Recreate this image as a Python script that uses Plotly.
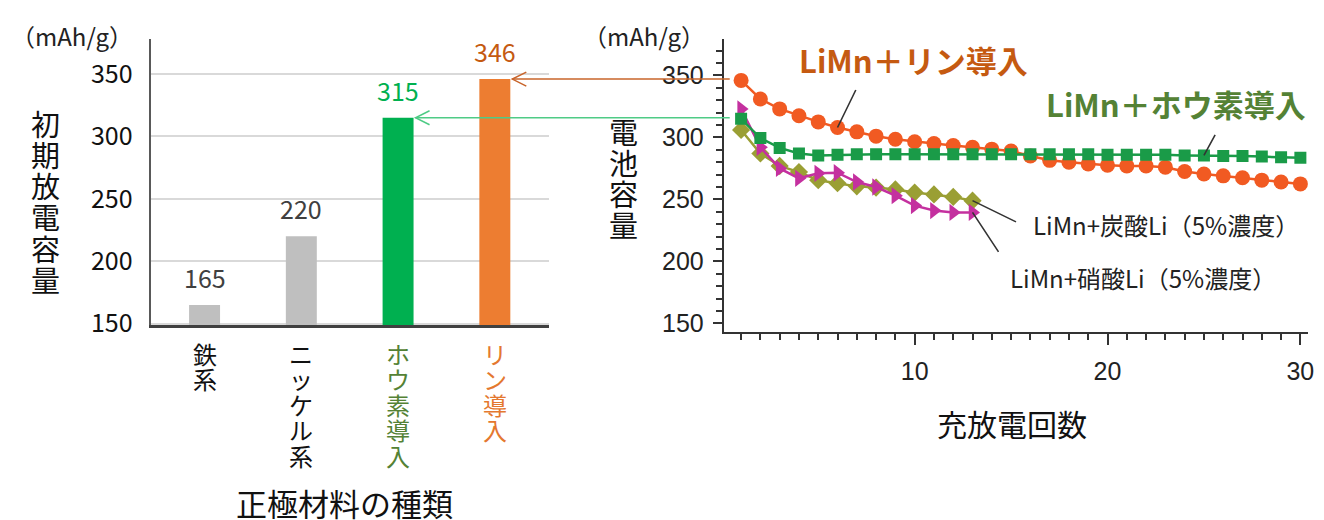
import plotly.graph_objects as go

# ---------------- data ----------------
categories = ["鉄系", "ニッケル系", "ホウ素導入", "リン導入"]
initial_capacity = [165, 220, 315, 346]
bar_colors = ["#BFBFBF", "#BFBFBF", "#00B050", "#ED7D31"]
bar_label_colors = ["#404040", "#404040", "#00B050", "#C55A11"]
cat_label_colors = ["#111111", "#111111", "#548235", "#E4782F"]
left_yticks = [150, 200, 250, 300, 350]

cycles = list(range(1, 31))
cycles_short = list(range(1, 14))
limn_p = [346, 331, 323, 317.5, 312.5, 308, 304.5, 301, 298.5, 296.5, 295, 293.5, 292, 290.5, 289,
          285, 281.5, 280, 278.5, 277.5, 277, 277, 276, 272.5, 270.5, 269, 267.5, 265.5, 264, 262.5]
limn_b = [315, 299.5, 291.5, 287, 285.5, 286, 286.5, 286.5, 286.5, 286.5, 286.5, 286.5, 286.5, 286.5, 286.5,
          286.5, 286.5, 286.5, 286.5, 286, 286, 286, 286, 285.5, 285.5, 285, 285, 284.5, 284, 283.5]
limn_carb = [306, 287, 277, 272, 265.5, 263, 260.5, 259.5, 258, 255.5, 254, 252, 249]
limn_nitr = [323, 292, 275, 267, 271, 271.5, 264, 260, 253, 245, 241, 239.5, 239.5]
right_yticks = [150, 200, 250, 300, 350]
right_xticks = [10, 20, 30]

W, H = 1324, 520
CJK = "Noto Sans CJK JP"
LAT = "Liberation Sans, Noto Sans CJK JP"

def px_x(p):
    return p / W

def px_y(p):
    return 1 - p / H

# left panel geometry
L_dom_x = [px_x(144), px_x(543)]
L_dom_y = [px_y(326), px_y(32)]
L_rng_x = [-0.55, 3.555]
L_rng_y = [148.7, 378]
BAR_W = 0.32
# right panel geometry
R_dom_x = [px_x(719), px_x(1306)]
R_dom_y = [px_y(333), px_y(31.7)]

fig = go.Figure()

fig.add_trace(go.Bar(
    x=categories, y=initial_capacity, width=BAR_W,
    marker=dict(color=bar_colors, line=dict(width=0)),
    xaxis="x", yaxis="y", showlegend=False, hoverinfo="skip",
))

series = [
    (limn_p, cycles, "#F15A22", "circle", 15),
    (limn_carb, cycles_short, "#9A9F34", "diamond", 14),
    (limn_nitr, cycles_short, "#C4309F", "triangle-right", 15),
    (limn_b, cycles, "#1A9B48", "square", 12),
]
for ys, xs, col, sym, sz in series:
    fig.add_trace(go.Scatter(
        x=xs, y=ys, mode="lines+markers",
        line=dict(color=col, width=2.5),
        marker=dict(symbol=sym, size=sz, color=col),
        xaxis="x2", yaxis="y2", showlegend=False, hoverinfo="skip",
    ))

annotations = []
# bar value labels
for c, v, col in zip(categories, initial_capacity, bar_label_colors):
    annotations.append(dict(x=c, y=v, xref="x", yref="y", text=str(v), showarrow=False,
                            xanchor="center", yanchor="bottom", yshift=8,
                            font=dict(family=CJK, size=25, color=col)))
# vertical category labels (one char per line)
for c, col in zip(categories, cat_label_colors):
    for i, ch in enumerate(c):
        annotations.append(dict(x=c, y=px_y(355), xref="x", yref="paper", text=ch, showarrow=False,
                                xanchor="center", yanchor="middle", yshift=-i * 25.5,
                                font=dict(family=CJK, size=24, color=col)))
# left y title
for i, ch in enumerate("初期放電容量"):
    annotations.append(dict(x=px_x(38), y=px_y(118), xref="paper", yref="paper", text=ch,
                            showarrow=False, xanchor="center", yanchor="middle", yshift=-i * 31.2,
                            font=dict(family=CJK, size=29, color="#111111")))
# right y title
for i, ch in enumerate("電池容量"):
    annotations.append(dict(x=px_x(618), y=px_y(126), xref="paper", yref="paper", text=ch,
                            showarrow=False, xanchor="center", yanchor="middle", yshift=-i * 31.2,
                            font=dict(family=CJK, size=29, color="#111111")))
# units
annotations.append(dict(x=px_x(1), y=px_y(28), xref="paper", yref="paper", text="（mAh/g）",
                        showarrow=False, xanchor="left", yanchor="middle",
                        font=dict(family=CJK, size=24, color="#222222")))
annotations.append(dict(x=px_x(576), y=px_y(28), xref="paper", yref="paper", text="（mAh/g）",
                        showarrow=False, xanchor="left", yanchor="middle",
                        font=dict(family=CJK, size=24, color="#222222")))
# axis titles
annotations.append(dict(x=px_x(338), y=px_y(508), xref="paper", yref="paper", text="正極材料の種類",
                        showarrow=False, xanchor="center", yanchor="middle",
                        font=dict(family=CJK, size=31, color="#111111")))
annotations.append(dict(x=px_x(1009), y=px_y(426), xref="paper", yref="paper", text="充放電回数",
                        showarrow=False, xanchor="center", yanchor="middle",
                        font=dict(family=CJK, size=30, color="#111111")))
# series labels
annotations.append(dict(x=px_x(910), y=px_y(53), xref="paper", yref="paper", text="<b>LiMn＋リン導入</b>",
                        showarrow=False, xanchor="center", yanchor="middle",
                        font=dict(family=CJK, size=31, color="#C55A11")))
annotations.append(dict(x=px_x(1306), y=px_y(98), xref="paper", yref="paper", text="<b>LiMn＋ホウ素導入</b>",
                        showarrow=False, xanchor="right", yanchor="middle",
                        font=dict(family=CJK, size=31, color="#548235")))
annotations.append(dict(x=px_x(1028), y=px_y(222), xref="paper", yref="paper", text="LiMn+炭酸Li（5%濃度）",
                        showarrow=False, xanchor="left", yanchor="middle",
                        font=dict(family=CJK, size=24, color="#222222")))
annotations.append(dict(x=px_x(1005), y=px_y(277), xref="paper", yref="paper", text="LiMn+硝酸Li（5%濃度）",
                        showarrow=False, xanchor="left", yanchor="middle",
                        font=dict(family=CJK, size=24, color="#222222")))
# leader lines to the series
leaders = [
    (cycles[5], limn_p[5], 19, -39),
    (cycles[24], limn_b[24], 12, -22),
    (cycles_short[12], limn_carb[12], 45, 22),
    (cycles_short[12], limn_nitr[12], 27, 41),
]
for x, y, ax, ay in leaders:
    annotations.append(dict(x=x, y=y, xref="x2", yref="y2", text="", showarrow=True,
                            arrowhead=0, arrowwidth=1.6, arrowcolor="#333333",
                            ax=ax, ay=ay, standoff=0))

# connector arrows from right axis to bar tops
def left_paper_x(v):
    return L_dom_x[0] + (v - L_rng_x[0]) / (L_rng_x[1] - L_rng_x[0]) * (L_dom_x[1] - L_dom_x[0])

shapes = []
for idx, col in [(3, "#C8642A"), (2, "#4FCB86")]:
    tip = left_paper_x(idx + BAR_W / 2) + 2 / W
    val = initial_capacity[idx]
    shapes.append(dict(type="line", xref="paper", yref="y", x0=tip, x1=R_dom_x[0] + 6 / W,
                       y0=val, y1=val, line=dict(color=col, width=1.5)))
    shapes.append(dict(type="path", xref="paper", yref="y", xsizemode="pixel", ysizemode="pixel",
                       xanchor=tip, yanchor=val, path="M 14,7 L 0,0 L 14,-7",
                       line=dict(color=col, width=1.5)))

fig.update_layout(
    width=W, height=H,
    margin=dict(l=0, r=0, t=0, b=0),
    paper_bgcolor="white", plot_bgcolor="white",
    showlegend=False,
    xaxis=dict(domain=L_dom_x, range=L_rng_x, type="category", showticklabels=False,
               showline=True, linecolor="#404040", linewidth=2.5, showgrid=False, zeroline=False,
               ticks="", fixedrange=True),
    yaxis=dict(domain=L_dom_y, range=L_rng_y, tickvals=left_yticks, showgrid=True,
               gridcolor="#D9D9D9", gridwidth=2, showline=True, linecolor="#595959", linewidth=1.5,
               ticks="", zeroline=False, ticklabelstandoff=12,
               tickfont=dict(family=CJK, size=25, color="#111111")),
    xaxis2=dict(domain=R_dom_x, range=[0.1, 30.4], anchor="y2", tickvals=right_xticks,
                showline=True, linecolor="#333333", linewidth=2, showgrid=False, zeroline=False,
                ticks="outside", ticklen=11, tickwidth=2, tickcolor="#333333",
                minor=dict(tick0=0, dtick=1, ticks="outside", ticklen=6, tickwidth=1.5, tickcolor="#333333"),
                ticklabelstandoff=5,
                tickfont=dict(family=LAT, size=25, color="#222222")),
    yaxis2=dict(domain=R_dom_y, range=[143, 379.5], anchor="x2", tickvals=right_yticks,
                showline=True, linecolor="#333333", linewidth=2, showgrid=False, zeroline=False,
                ticks="outside", ticklen=9, tickwidth=2, tickcolor="#333333",
                minor=dict(tick0=0, dtick=10, ticks="outside", ticklen=6, tickwidth=1.5, tickcolor="#333333"),
                ticklabelstandoff=4,
                tickfont=dict(family=LAT, size=25, color="#222222")),
    annotations=annotations,
    shapes=shapes,
)

fig.write_html("out.html")
